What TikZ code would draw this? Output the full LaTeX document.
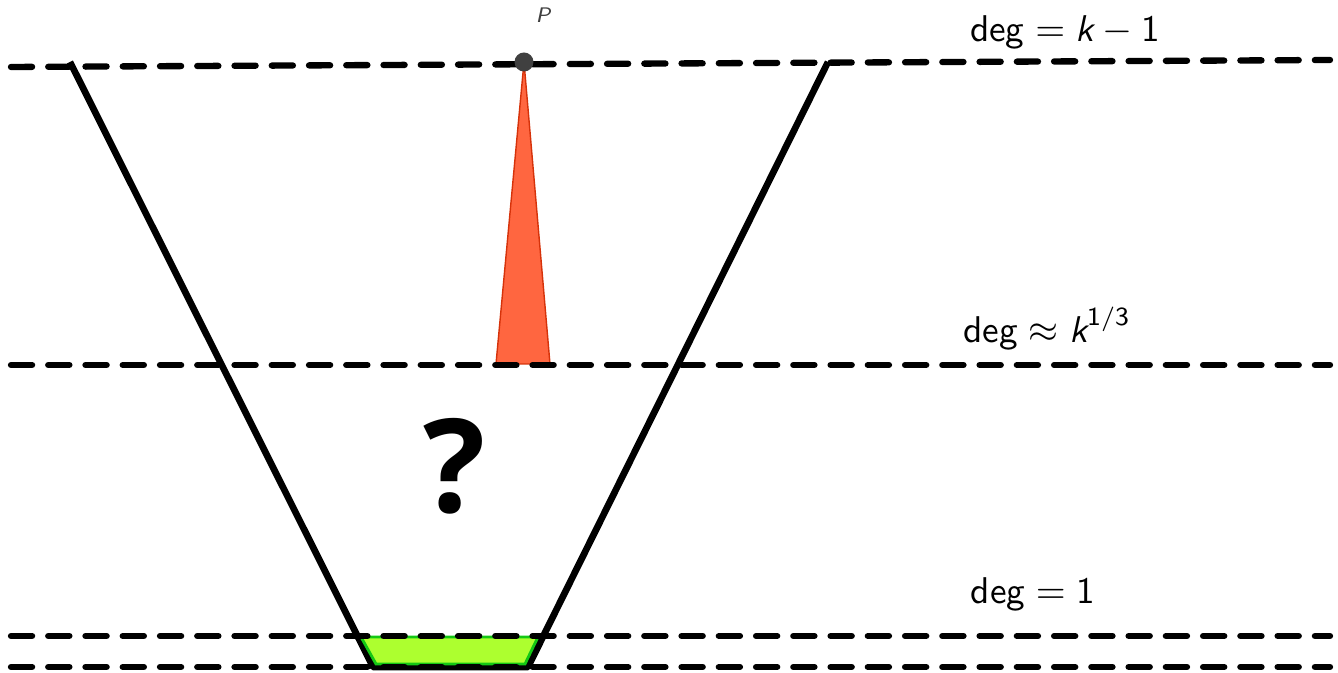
\documentclass[tikz,border=0pt]{standalone}
\usepackage{fontspec}
\newfontfamily\qfont{Open Sans}
\definecolor{spike}{RGB}{255,102,64}
\definecolor{spikeedge}{RGB}{214,50,10}
\definecolor{basefill}{RGB}{173,255,47}
\definecolor{baseedge}{RGB}{20,200,20}
\definecolor{dotgray}{RGB}{64,64,64}
\begin{document}
\begin{tikzpicture}[
    level/.style={line width=1.8pt, line cap=round, dash pattern=on 6pt off 4.6pt},
    side/.style={line width=1.9pt, line join=round},
    lbl/.style={font=\sffamily\fontsize{10.6}{12}\selectfont}]
    \useasboundingbox (0,0) rectangle (13.38,6.73);
    \coordinate (topW) at (0.11,6.06);
    \coordinate (topE) at (13.30,6.13);
    \coordinate (midW) at (0.11,3.08);
    \coordinate (midE) at (13.30,3.08);
    \coordinate (oneW) at (0.11,0.37);
    \coordinate (oneE) at (13.30,0.37);
    \coordinate (botW) at (0.11,0.06);
    \coordinate (botE) at (13.30,0.06);
    \coordinate (P) at (5.24,6.11);
    \draw[side] (0.70,6.11) -- (3.73,0.06) -- (5.28,0.06) -- (8.28,6.11);
    \filldraw[fill=basefill, draw=baseedge, line width=0.8pt]
        (3.61,0.36) -- (5.38,0.36) -- (5.25,0.09) -- (3.76,0.09) -- cycle;
    \filldraw[fill=spike, draw=spikeedge, line width=0.4pt]
        (P) -- (5.50,3.09) -- (4.96,3.09) -- cycle;
    \draw[level] (topW) -- (topE);
    \draw[level] (midW) -- (midE);
    \draw[level] (oneW) -- (oneE);
    \draw[level] (botW) -- (botE);
    \fill[dotgray] (P) circle (0.095);
    \node[font=\sffamily\itshape\fontsize{6}{7}\selectfont, text=dotgray] (Plbl) at (5.43,6.58) {P};
    \node[lbl] (degtop) at (10.65,6.41) {$\mathsf{deg} = \textsf{\itshape k} - \mathsf{1}$};
    \node[lbl] (degmid) at (10.47,3.44) {$\mathsf{deg} \approx \textsf{\itshape k}^{\mathsf{1/3}}$};
    \node[lbl] (degone) at (10.33,0.79) {$\mathsf{deg} = \mathsf{1}$};
    \node[font=\qfont\bfseries\fontsize{37}{40}\selectfont] (ask) at (4.55,2.07) {?};
\end{tikzpicture}
\end{document}
